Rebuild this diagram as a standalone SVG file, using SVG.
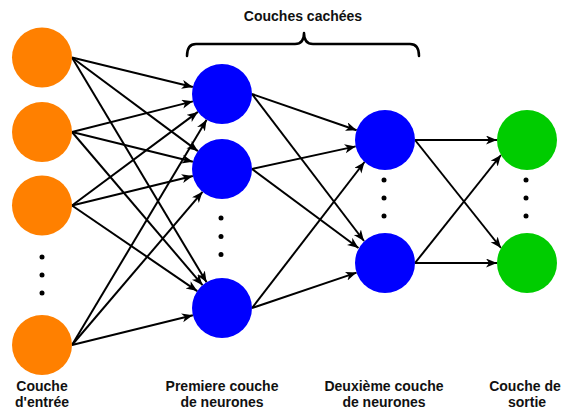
<svg xmlns="http://www.w3.org/2000/svg" width="561" height="410" viewBox="0 0 561 410">
  <style>
    .in { fill: #FF8000; }
    .hid { fill: #0000FF; }
    .out { fill: #00CC00; }
    .dot { fill: #000; }
    .edge { stroke: #000; stroke-width: 2; fill: none; marker-end: url(#arrow); }
    .brace { stroke: #000; stroke-width: 2.5; fill: none; stroke-linecap: round; stroke-linejoin: round; }
    .lbl { font-family: "Liberation Sans", Arial, Helvetica, sans-serif; font-size: 14px; font-weight: bold; fill: #111; text-anchor: middle; }
  </style>
  <defs>
    <marker id="arrow" markerUnits="userSpaceOnUse" markerWidth="12" markerHeight="10" refX="11" refY="4.5" orient="auto">
      <path d="M0,0 L11,4.5 L0,9 L3,4.5 Z" fill="#000"/>
    </marker>
  </defs>

  <rect width="561" height="410" fill="#fff"/>

  <!-- connectors -->
  <g id="connectors">
    <!-- input layer to first hidden layer -->
    <line class="edge" x1="72" y1="57.5" x2="192.85" y2="86.91"/>
    <line class="edge" x1="72" y1="57.5" x2="197.92" y2="151.1"/>
    <line class="edge" x1="72" y1="57.5" x2="206.59" y2="282.26"/>
    <line class="edge" x1="72" y1="132" x2="192.92" y2="101.37"/>
    <line class="edge" x1="72" y1="132" x2="192.87" y2="161.82"/>
    <line class="edge" x1="72" y1="132" x2="202.54" y2="285.17"/>
    <line class="edge" x1="72" y1="205.5" x2="197.92" y2="111.9"/>
    <line class="edge" x1="72" y1="205.5" x2="192.85" y2="176.09"/>
    <line class="edge" x1="72" y1="205.5" x2="197.23" y2="291.07"/>
    <line class="edge" x1="72" y1="345" x2="206.61" y2="119.75"/>
    <line class="edge" x1="72" y1="345" x2="202.54" y2="191.83"/>
    <line class="edge" x1="72" y1="345" x2="192.87" y2="315.18"/>
    <!-- first hidden layer to second hidden layer -->
    <line class="edge" x1="252" y1="94" x2="356.65" y2="130.19"/>
    <line class="edge" x1="252" y1="94" x2="364" y2="241"/>
    <line class="edge" x1="252" y1="169" x2="355.69" y2="146.39"/>
    <line class="edge" x1="252" y1="169" x2="358.5" y2="248"/>
    <line class="edge" x1="252" y1="308" x2="364.5" y2="162"/>
    <line class="edge" x1="252" y1="308" x2="356.58" y2="272.61"/>
    <!-- second hidden layer to output layer -->
    <line class="edge" x1="415" y1="140" x2="497" y2="140"/>
    <line class="edge" x1="415" y1="140" x2="501" y2="248"/>
    <line class="edge" x1="415" y1="263" x2="501" y2="155"/>
    <line class="edge" x1="415" y1="263" x2="497" y2="263"/>
  </g>

  <!-- input layer -->
  <g id="input-1"><circle class="in" cx="42" cy="57.5" r="30"/></g>
  <g id="input-2"><circle class="in" cx="42" cy="132" r="30"/></g>
  <g id="input-3"><circle class="in" cx="42" cy="205.5" r="30"/></g>
  <g id="input-dots">
    <circle class="dot" cx="42" cy="257" r="2.5"/>
    <circle class="dot" cx="42" cy="275" r="2.5"/>
    <circle class="dot" cx="42" cy="293" r="2.5"/>
  </g>
  <g id="input-n"><circle class="in" cx="42" cy="345" r="30"/></g>

  <!-- first hidden layer -->
  <g id="hidden1-1"><circle class="hid" cx="222" cy="94" r="30"/></g>
  <g id="hidden1-2"><circle class="hid" cx="222" cy="169" r="30"/></g>
  <g id="hidden1-dots">
    <circle class="dot" cx="221" cy="218" r="2.5"/>
    <circle class="dot" cx="221" cy="236.5" r="2.5"/>
    <circle class="dot" cx="221" cy="254.5" r="2.5"/>
  </g>
  <g id="hidden1-n"><circle class="hid" cx="222" cy="308" r="30"/></g>

  <!-- second hidden layer -->
  <g id="hidden2-1"><circle class="hid" cx="385" cy="140" r="30"/></g>
  <g id="hidden2-dots">
    <circle class="dot" cx="384" cy="180" r="2.5"/>
    <circle class="dot" cx="384" cy="198" r="2.5"/>
    <circle class="dot" cx="384" cy="216" r="2.5"/>
  </g>
  <g id="hidden2-n"><circle class="hid" cx="385" cy="263" r="30"/></g>

  <!-- output layer -->
  <g id="output-1"><circle class="out" cx="527" cy="140" r="30"/></g>
  <g id="output-dots">
    <circle class="dot" cx="526" cy="180" r="2.5"/>
    <circle class="dot" cx="526" cy="198" r="2.5"/>
    <circle class="dot" cx="526" cy="216" r="2.5"/>
  </g>
  <g id="output-n"><circle class="out" cx="527" cy="263" r="30"/></g>

  <!-- hidden layers brace and title -->
  <g id="hidden-brace">
    <path class="brace" d="M187,56 Q187,44 196,44 L295,44 Q304,44 304,33 Q304,44 313,44 L410,44 Q419,44 419,56"/>
    <text class="lbl" x="303" y="21">Couches cachées</text>
  </g>

  <!-- layer captions -->
  <g id="captions">
    <text class="lbl" x="42" y="391">Couche</text>
    <text class="lbl" x="42" y="407">d'entrée</text>
    <text class="lbl" x="222" y="391">Premiere couche</text>
    <text class="lbl" x="222" y="407">de neurones</text>
    <text class="lbl" x="384" y="391">Deuxième couche</text>
    <text class="lbl" x="384" y="407">de neurones</text>
    <text class="lbl" x="525" y="391">Couche de</text>
    <text class="lbl" x="527" y="407">sortie</text>
  </g>
</svg>
